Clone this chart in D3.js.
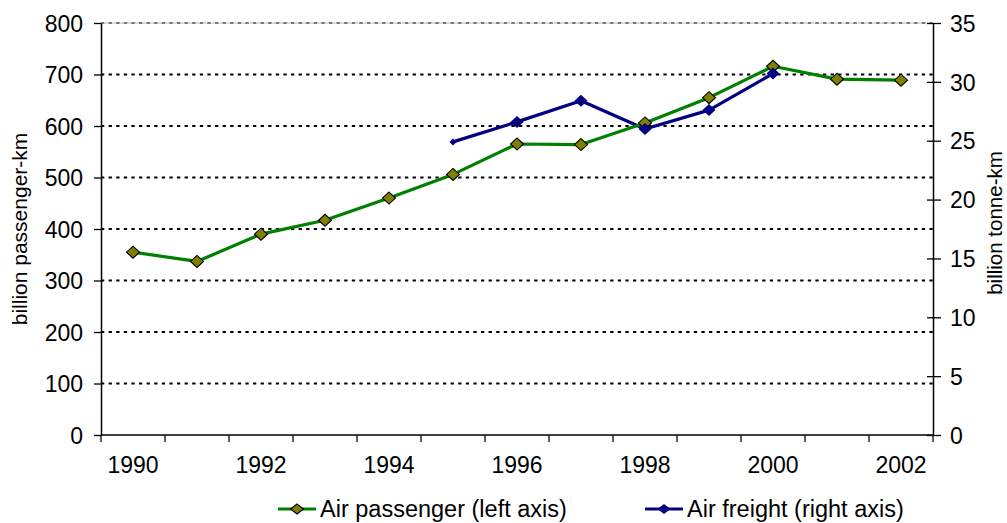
<!DOCTYPE html>
<html>
<head>
<meta charset="utf-8">
<script src="https://cdn.jsdelivr.net/npm/d3@7"></script>
<style>
  html, body { margin: 0; padding: 0; background: #fff; }
  svg { display: block; font-family: "Liberation Sans", Arial, sans-serif; }
</style>
</head>
<body>
<svg id="chart" width="1007" height="523"></svg>
<script>
// Air transport volumes, 1990-2002
const years = [1990, 1991, 1992, 1993, 1994, 1995, 1996, 1997, 1998, 1999, 2000, 2001, 2002];
const passengerKm = [355, 337, 390, 417, 460, 506, 565, 564, 606, 655, 716, 691, 689];   // billion passenger-km
const freightTkm  = [null, null, null, null, null, 24.9, 26.6, 28.4, 26.0, 27.6, 30.7, null, null]; // billion tonne-km
const leftTicks = [0, 100, 200, 300, 400, 500, 600, 700, 800];
const rightTicks = [0, 5, 10, 15, 20, 25, 30, 35];
const yearLabels = [1990, 1992, 1994, 1996, 1998, 2000, 2002];
const seriesNames = ["Air passenger (left axis)", "Air freight (right axis)"];

const FONT = 23;
const LEGEND_FONT = 23.5;
const svg = d3.select("#chart");
const plot = { left: 101, right: 933, top: 23, bottom: 435 };

const x = d3.scaleBand().domain(years).range([plot.left, plot.right]);
const yL = d3.scaleLinear().domain([0, 800]).range([plot.bottom, plot.top]);
const yR = d3.scaleLinear().domain([0, 35]).range([plot.bottom, plot.top]);
const cx = d => x(d) + x.bandwidth() / 2;

// horizontal gridlines on the left-axis ticks
const grid = svg.append("g");
grid.append("line")
  .attr("x1", plot.left).attr("x2", plot.right)
  .attr("y1", yL(800)).attr("y2", yL(800))
  .attr("stroke", "#bbb").attr("stroke-width", 1);
grid.selectAll("line.g")
  .data(leftTicks.filter(t => t > 0))
  .join("line")
  .attr("class", "g")
  .attr("x1", plot.left).attr("x2", plot.right)
  .attr("y1", d => yL(d)).attr("y2", d => yL(d))
  .attr("stroke", d => d === 800 ? "#777" : "#000")
  .attr("stroke-width", 2)
  .attr("stroke-dasharray", "3.3,4.3");

// left axis
const axL = svg.append("g")
  .attr("transform", `translate(${plot.left},0)`)
  .call(d3.axisLeft(yL).tickValues(leftTicks).tickSize(7).tickPadding(11).tickSizeOuter(0));
axL.select(".domain").attr("stroke", "#000").attr("stroke-width", 1.5);
axL.selectAll(".tick line").attr("stroke", "#000").attr("stroke-width", 1.3);
axL.selectAll(".tick text").attr("font-size", FONT).attr("fill", "#000").attr("font-family", null).attr("dy", "0.36em");

// right axis (ticks cross the axis line)
const axR = svg.append("g")
  .attr("transform", `translate(${plot.right},0)`)
  .call(d3.axisRight(yR).tickValues(rightTicks).tickSize(8).tickPadding(9).tickSizeOuter(0));
axR.select(".domain").attr("stroke", "#000").attr("stroke-width", 1.5);
axR.selectAll(".tick line").attr("x1", -6).attr("stroke", "#000").attr("stroke-width", 1.3);
axR.selectAll(".tick text").attr("font-size", FONT).attr("fill", "#000").attr("font-family", null).attr("dy", "0.36em");

// category axis: ticks on band boundaries, labels on every second year
const xa = svg.append("g");
xa.append("line")
  .attr("x1", plot.left).attr("x2", plot.right)
  .attr("y1", plot.bottom).attr("y2", plot.bottom)
  .attr("stroke", "#000").attr("stroke-width", 1.5);
const boundaries = years.map(d => x(d)).concat([x(years[years.length - 1]) + x.bandwidth()]);
xa.selectAll("line.t").data(boundaries).join("line")
  .attr("class", "t")
  .attr("x1", d => d).attr("x2", d => d)
  .attr("y1", plot.bottom).attr("y2", plot.bottom + 7)
  .attr("stroke", "#000").attr("stroke-width", 1.3);
xa.selectAll("text").data(yearLabels).join("text")
  .attr("x", d => cx(d)).attr("y", 473)
  .attr("text-anchor", "middle").attr("font-size", FONT).attr("fill", "#000")
  .text(d => d);

// axis titles
svg.append("text")
  .attr("transform", `translate(27,${(plot.top + plot.bottom) / 2}) rotate(-90)`)
  .attr("text-anchor", "middle").attr("font-size", 21).attr("fill", "#000")
  .text("billion passenger-km");
svg.append("text")
  .attr("transform", `translate(1002,${(plot.top + plot.bottom) / 2 - 6}) rotate(-90)`)
  .attr("text-anchor", "middle").attr("font-size", 20.5).attr("fill", "#000")
  .text("billion tonne-km");

// series
const diamond = (w, h) => `M0,${-h / 2}L${w / 2},0L0,${h / 2}L${-w / 2},0Z`;

const pData = years.map((yr, i) => ({ yr, v: passengerKm[i] }));
const fData = years.map((yr, i) => ({ yr, v: freightTkm[i] })).filter(d => d.v !== null);

svg.append("path").datum(fData)
  .attr("fill", "none").attr("stroke", "#000080").attr("stroke-width", 3.2).attr("stroke-linejoin", "round")
  .attr("d", d3.line().x(d => cx(d.yr)).y(d => yR(d.v)));

svg.append("path").datum(pData)
  .attr("fill", "none").attr("stroke", "#008000").attr("stroke-width", 3.2).attr("stroke-linejoin", "round")
  .attr("d", d3.line().x(d => cx(d.yr)).y(d => yL(d.v)));

svg.append("g").selectAll("path").data(pData).join("path")
  .attr("transform", d => `translate(${cx(d.yr)},${yL(d.v)})`)
  .attr("d", diamond(13, 12))
  .attr("fill", "#808000").attr("stroke", "#000").attr("stroke-width", 1.1);

svg.append("g").selectAll("path").data(fData).join("path")
  .attr("transform", d => `translate(${cx(d.yr)},${yR(d.v)})`)
  .attr("d", (d, i) => i === 0 ? diamond(7, 7) : diamond(13, 12))
  .attr("fill", "#000080");

// legend
const legend = svg.append("g");
const legItems = [
  { name: seriesNames[0], color: "#008000", fill: "#808000", stroke: "#000", x0: 278 },
  { name: seriesNames[1], color: "#000080", fill: "#000080", stroke: "none", x0: 645 }
];
legItems.forEach(it => {
  legend.append("line")
    .attr("x1", it.x0).attr("x2", it.x0 + 38)
    .attr("y1", 509).attr("y2", 509)
    .attr("stroke", it.color).attr("stroke-width", 3.2);
  legend.append("path")
    .attr("transform", `translate(${it.x0 + 19},509)`)
    .attr("d", diamond(13, 10))
    .attr("fill", it.fill).attr("stroke", it.stroke).attr("stroke-width", 1.1);
  legend.append("text")
    .attr("x", it.x0 + 42).attr("y", 517)
    .attr("font-size", LEGEND_FONT).attr("fill", "#000")
    .text(it.name);
});
</script>
</body>
</html>
